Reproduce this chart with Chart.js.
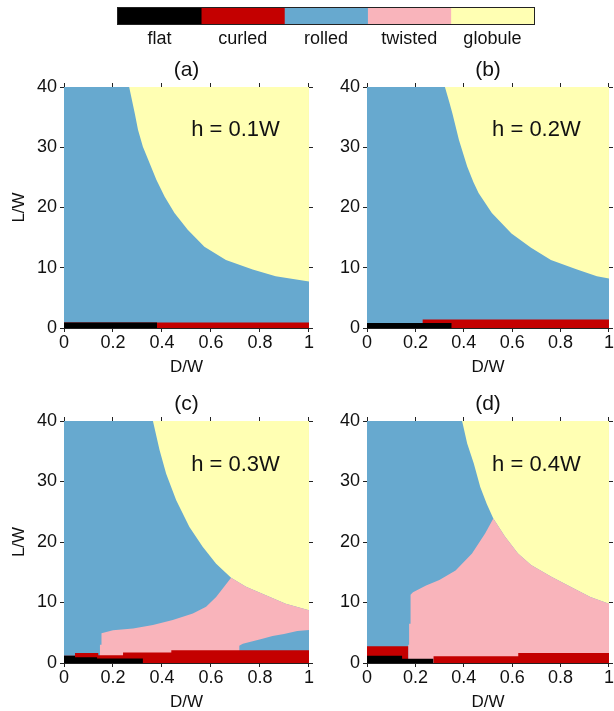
<!DOCTYPE html>
<html>
<head>
<meta charset="utf-8">
<script src="https://cdn.jsdelivr.net/npm/chart.js@4.4.1/dist/chart.umd.min.js"></script>
<style>
  html, body { margin: 0; padding: 0; background: #fff; overflow: hidden; width: 614px; height: 711px; }
  canvas { position: absolute; }
</style>
</head>
<body>
<canvas id="legend" width="450" height="52" style="left:100px;top:0px"></canvas>
<canvas id="panel-a" width="314" height="334" style="left:0px;top:46px"></canvas>
<canvas id="panel-b" width="311" height="334" style="left:303px;top:46px"></canvas>
<canvas id="panel-c" width="314" height="340" style="left:0px;top:380px"></canvas>
<canvas id="panel-d" width="311" height="340" style="left:303px;top:380px"></canvas>
<script>
// phases and colours
const phaseNames = ['flat', 'curled', 'rolled', 'twisted', 'globule'];
const phaseColors = ['#000000', '#c40000', '#67a9cf', '#f9b4bb', '#ffffb3'];

const xTicks = [0, 0.2, 0.4, 0.6, 0.8, 1];
const yTicks = [0, 10, 20, 30, 40];

// phase boundaries, [D/W, L/W] pairs
const globuleTop = [[0, 40], [1, 40]];

// (a) h = 0.1W
const rolledA = [[0, 40], [0.266, 40], [0.289, 35.6], [0.302, 32.9], [0.322, 30.1], [0.350, 27.3], [0.377, 24.6],
  [0.411, 21.8], [0.451, 19.1], [0.505, 16.3], [0.573, 13.5], [0.661, 11.3], [0.770, 9.7], [0.864, 8.6], [1, 7.7]];
const curledA = [[0, 0.9], [1, 0.9]];
const flatA = [[0, 0.9], [0.38, 0.9], [0.38, 0]];

// (b) h = 0.2W
const rolledB = [[0, 40], [0.322, 40], [0.340, 37.5], [0.353, 35.6], [0.380, 31.2], [0.414, 26.8], [0.440, 24.2],
  [0.461, 22.4], [0.516, 19.1], [0.597, 15.7], [0.678, 13.3], [0.760, 11.3], [0.868, 9.7], [0.950, 8.6], [1, 8.2]];
const curledB = [[0, 0], [0.23, 0], [0.23, 1.4], [1, 1.4]];
const flatB = [[0, 0.85], [0.35, 0.85], [0.35, 0]];

// (c) h = 0.3W
const rolledEdgeC = [[0, 40], [0.363, 40], [0.390, 35.2], [0.417, 31.3], [0.458, 26.9], [0.512, 22.5], [0.566, 19.2],
  [0.621, 16.4], [0.682, 14.1]];
const globuleEdgeC = [[0.743, 12.6], [0.824, 11.2], [0.905, 9.8], [1, 8.7]];
const twistedEdgeC = [[0.146, 0], [0.146, 3.0], [0.153, 3.0], [0.153, 4.9], [0.200, 5.4], [0.282, 5.7], [0.363, 6.3],
  [0.444, 7.1], [0.526, 8.2], [0.580, 9.3], [0.621, 10.9], [0.682, 14.1]];
const rolledPocketC = [[0.715, 0], [0.715, 2.86], [0.730, 3.2], [0.770, 3.6], [0.810, 4.0], [0.851, 4.46],
  [0.898, 4.8], [0.952, 5.3], [1, 5.45]];
const curledC = [[0, 1.2], [0.045, 1.2], [0.045, 1.65], [0.14, 1.65], [0.14, 1.3], [0.241, 1.3], [0.241, 1.75],
  [0.438, 1.75], [0.438, 2.1], [1, 2.1]];
const flatC = [[0, 1.2], [0.045, 1.2], [0.045, 0.95], [0.135, 0.95], [0.135, 0.75], [0.322, 0.75], [0.322, 0]];

// (d) h = 0.4W
const rolledEdgeD = [[0, 40], [0.393, 40], [0.414, 36.3], [0.441, 33.0], [0.468, 29.1], [0.495, 26.3], [0.522, 23.9]];
const globuleEdgeD = [[0.570, 20.9], [0.624, 18.1], [0.678, 16.2], [0.760, 14.3], [0.841, 12.6], [0.923, 10.9], [1, 9.8]];
const twistedEdgeD = [[0.17, 0], [0.17, 3.0], [0.174, 3.0], [0.174, 6.5], [0.180, 6.5], [0.180, 11.3], [0.190, 11.7],
  [0.244, 12.8], [0.299, 13.7], [0.366, 15.3], [0.434, 18.1], [0.488, 21.4], [0.522, 23.9]];
const curledD = [[0, 2.75], [0.17, 2.75], [0.17, 0], [0.275, 0], [0.275, 1.1], [0.625, 1.1], [0.625, 1.65], [1, 1.65]];
const flatD = [[0, 1.2], [0.145, 1.2], [0.145, 0.7], [0.275, 0.7], [0.275, 0]];

Chart.defaults.font.family = '"Liberation Sans", Arial, Helvetica, sans-serif';
Chart.defaults.color = '#111';

const axisColor = '#222';

const panelText = {
  id: 'panelText',
  afterDraw(chart, args, opts) {
    const {ctx, chartArea, scales} = chart;
    ctx.save();
    ctx.fillStyle = '#111';
    ctx.textAlign = 'center';
    ctx.textBaseline = 'middle';
    ctx.font = '21px "Liberation Sans", Arial, sans-serif';
    ctx.fillText(opts.tag, (chartArea.left + chartArea.right) / 2, chartArea.top - 17);
    ctx.font = '22px "Liberation Sans", Arial, sans-serif';
    ctx.fillText(opts.label, scales.x.getPixelForValue(0.7), scales.y.getPixelForValue(32.8));
    ctx.restore();
  }
};

const barOutline = {
  id: 'barOutline',
  afterDraw(chart) {
    const {ctx, chartArea} = chart;
    ctx.save();
    ctx.strokeStyle = axisColor;
    ctx.lineWidth = 1;
    ctx.strokeRect(Math.round(chartArea.left) - 0.5, Math.round(chartArea.top) - 0.5,
      Math.round(chartArea.right - chartArea.left) + 1, Math.round(chartArea.bottom - chartArea.top) + 1);
    ctx.restore();
  }
};

function toPoints(pairs) {
  return pairs.map(p => ({x: p[0], y: p[1]}));
}

function frameAxis(position, min, max, values, fit) {
  return {
    type: 'linear',
    position: position,
    min: min,
    max: max,
    z: 1,
    afterBuildTicks: s => { s.ticks = values.map(v => ({value: v})); },
    afterFit: fit,
    grid: {drawOnChartArea: false, drawTicks: true, tickLength: 4, color: axisColor},
    border: {display: true, color: axisColor, width: 1},
    ticks: {display: false}
  };
}

function makePanel(id, layers, tag, label, rightWidth, bottomHeight, showYTitle, titlePad) {
  const ctx = document.getElementById(id).getContext('2d');

  const datasets = layers.map(layer => ({
    data: toPoints(layer.edge),
    backgroundColor: layer.color,
    borderColor: 'rgba(0,0,0,0)',
    borderWidth: 0,
    pointRadius: 0,
    pointHoverRadius: 0,
    fill: 'origin',
    tension: 0
  }));

  const x = frameAxis('bottom', 0, 1, xTicks, s => { s.height = bottomHeight; });
  x.ticks = {display: true, padding: 0, font: {size: 18}, maxRotation: 0, autoSkip: false, callback: v => String(v)};
  x.title = {display: true, text: 'D/W', font: {size: 17}, padding: {top: 0, bottom: titlePad}};

  const y = frameAxis('left', 0, 40, yTicks, s => { s.width = 64; });
  y.ticks = {display: true, padding: 3, font: {size: 18}, autoSkip: false, callback: v => String(v)};
  y.title = {display: showYTitle, text: 'L/W', font: {size: 17}, padding: {top: 9, bottom: 0}};

  new Chart(ctx, {
    type: 'line',
    data: {datasets: datasets},
    options: {
      responsive: false,
      animation: false,
      events: [],
      layout: {autoPadding: false, padding: 0},
      plugins: {
        legend: {display: false},
        tooltip: {enabled: false},
        panelText: {tag: tag, label: label}
      },
      scales: {
        x: x,
        x2: frameAxis('top', 0, 1, xTicks, s => { s.height = 41; }),
        y: y,
        y2: frameAxis('right', 0, 40, yTicks, s => { s.width = rightWidth; })
      }
    },
    plugins: [panelText]
  });
}

// colour bar legend
new Chart(document.getElementById('legend').getContext('2d'), {
  type: 'bar',
  data: {
    labels: [''],
    datasets: phaseNames.map((name, i) => ({
      label: name,
      data: [1],
      backgroundColor: phaseColors[i],
      borderWidth: 0,
      barPercentage: 1,
      categoryPercentage: 1
    }))
  },
  options: {
    indexAxis: 'y',
    responsive: false,
    animation: false,
    events: [],
    layout: {autoPadding: false, padding: {left: 18, right: 16, top: 8, bottom: 0}},
    plugins: {legend: {display: false}, tooltip: {enabled: false}},
    scales: {
      x: {
        stacked: true,
        min: 0,
        max: phaseNames.length,
        afterBuildTicks: s => { s.ticks = phaseNames.map((n, i) => ({value: i + 0.5})); },
        afterFit: s => { s.height = 28; },
        grid: {display: false},
        border: {display: false},
        ticks: {padding: -4, font: {size: 18}, maxRotation: 0, autoSkip: false, callback: (v, i) => phaseNames[i]}
      },
      y: {stacked: true, display: false}
    }
  },
  plugins: [barOutline]
});

makePanel('panel-a', [
  {edge: flatA, color: phaseColors[0]},
  {edge: curledA, color: phaseColors[1]},
  {edge: rolledA, color: phaseColors[2]},
  {edge: globuleTop, color: phaseColors[4]}
], '(a)', 'h = 0.1W', 4, 52, true, 2);

makePanel('panel-b', [
  {edge: flatB, color: phaseColors[0]},
  {edge: curledB, color: phaseColors[1]},
  {edge: rolledB, color: phaseColors[2]},
  {edge: globuleTop, color: phaseColors[4]}
], '(b)', 'h = 0.2W', 2, 52, false, 2);

makePanel('panel-c', [
  {edge: flatC, color: phaseColors[0]},
  {edge: curledC, color: phaseColors[1]},
  {edge: rolledPocketC, color: phaseColors[2]},
  {edge: twistedEdgeC.concat(globuleEdgeC), color: phaseColors[3]},
  {edge: rolledEdgeC.concat(globuleEdgeC), color: phaseColors[2]},
  {edge: globuleTop, color: phaseColors[4]}
], '(c)', 'h = 0.3W', 4, 57, true, 7);

makePanel('panel-d', [
  {edge: flatD, color: phaseColors[0]},
  {edge: curledD, color: phaseColors[1]},
  {edge: twistedEdgeD.concat(globuleEdgeD), color: phaseColors[3]},
  {edge: rolledEdgeD.concat(globuleEdgeD), color: phaseColors[2]},
  {edge: globuleTop, color: phaseColors[4]}
], '(d)', 'h = 0.4W', 2, 57, false, 7);
</script>
</body>
</html>
